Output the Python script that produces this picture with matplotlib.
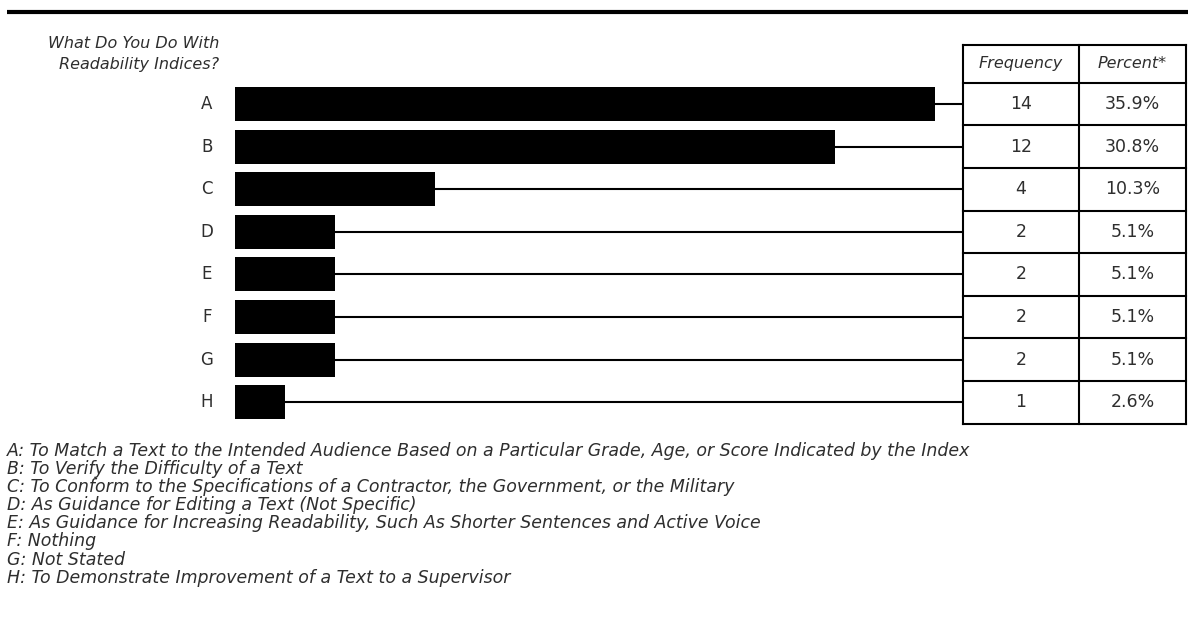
import matplotlib
matplotlib.use("Agg")
import matplotlib.pyplot as plt

categories = ["A", "B", "C", "D", "E", "F", "G", "H"]
frequency = [14, 12, 4, 2, 2, 2, 2, 1]
percent = ["35.9%", "30.8%", "10.3%", "5.1%", "5.1%", "5.1%", "5.1%", "2.6%"]
descriptions = [
    "A: To Match a Text to the Intended Audience Based on a Particular Grade, Age, or Score Indicated by the Index",
    "B: To Verify the Difficulty of a Text",
    "C: To Conform to the Specifications of a Contractor, the Government, or the Military",
    "D: As Guidance for Editing a Text (Not Specific)",
    "E: As Guidance for Increasing Readability, Such As Shorter Sentences and Active Voice",
    "F: Nothing",
    "G: Not Stated",
    "H: To Demonstrate Improvement of a Text to a Supervisor",
]
title_lines = ["What Do You Do With", "Readability Indices?"]
col_headers = ["Frequency", "Percent*"]

W, H = 1188, 617
fig = plt.figure(figsize=(W / 100, H / 100), dpi=100)
ax = fig.add_axes([0, 0, 1, 1])

x0_px, unit_px = 235, 50.0
yc0_px, row_px = 104, 42.6
ax.set_xlim(-x0_px / unit_px, (W - x0_px) / unit_px)
ax.set_ylim((H - yc0_px) / row_px, -yc0_px / row_px)
ax.axis("off")

def fx(px):
    return (px - x0_px) / unit_px

def fy(py):
    return (py - yc0_px) / row_px

font = "DejaVu Sans"
tc = "#2e2e2e"

# top rule
ax.plot([fx(7), fx(1188)], [fy(12), fy(12)], color="black", lw=3, solid_capstyle="butt")

# title
ax.text(fx(219), fy(44), title_lines[0], ha="right", va="center", style="italic",
        fontsize=11.5, family=font, color=tc)
ax.text(fx(219), fy(64), title_lines[1], ha="right", va="center", style="italic",
        fontsize=11.5, family=font, color=tc)

ypos = list(range(len(categories)))
ax.barh(ypos, frequency, height=0.8, left=0, color="black")

tab_l, tab_m, tab_r = fx(963), fx(1079), fx(1186)
for i, v in zip(ypos, frequency):
    ax.plot([v, tab_l], [i, i], color="black", lw=1.5, solid_capstyle="butt")
    ax.text(fx(207), i, categories[i], ha="center", va="center", fontsize=12,
            family=font, color=tc)
    ax.text((tab_l + tab_m) / 2, i, str(v), ha="center", va="center", fontsize=12.5,
            family=font, color=tc)
    ax.text((tab_m + tab_r) / 2, i, percent[i], ha="center", va="center", fontsize=12.5,
            family=font, color=tc)

# table grid
top = fy(45)
bottom = len(categories) - 0.5
hlines = [top, -0.5] + [i + 0.5 for i in ypos]
for yy in hlines:
    ax.plot([tab_l, tab_r], [yy, yy], color="black", lw=1.5, solid_capstyle="projecting")
for xx in (tab_l, tab_m, tab_r):
    ax.plot([xx, xx], [top, bottom], color="black", lw=1.5, solid_capstyle="projecting")
hy = (top - 0.5) / 2
ax.text((tab_l + tab_m) / 2, hy, col_headers[0], ha="center", va="center", style="italic",
        fontsize=11.5, family=font, color=tc)
ax.text((tab_m + tab_r) / 2, hy, col_headers[1], ha="center", va="center", style="italic",
        fontsize=11.5, family=font, color=tc)

# descriptions
for k, d in enumerate(descriptions):
    ax.text(fx(7), fy(451 + k * 18.1), d, ha="left", va="center", style="italic",
            fontsize=12.5, family=font, color=tc)

fig.savefig("out.png", dpi=100)
